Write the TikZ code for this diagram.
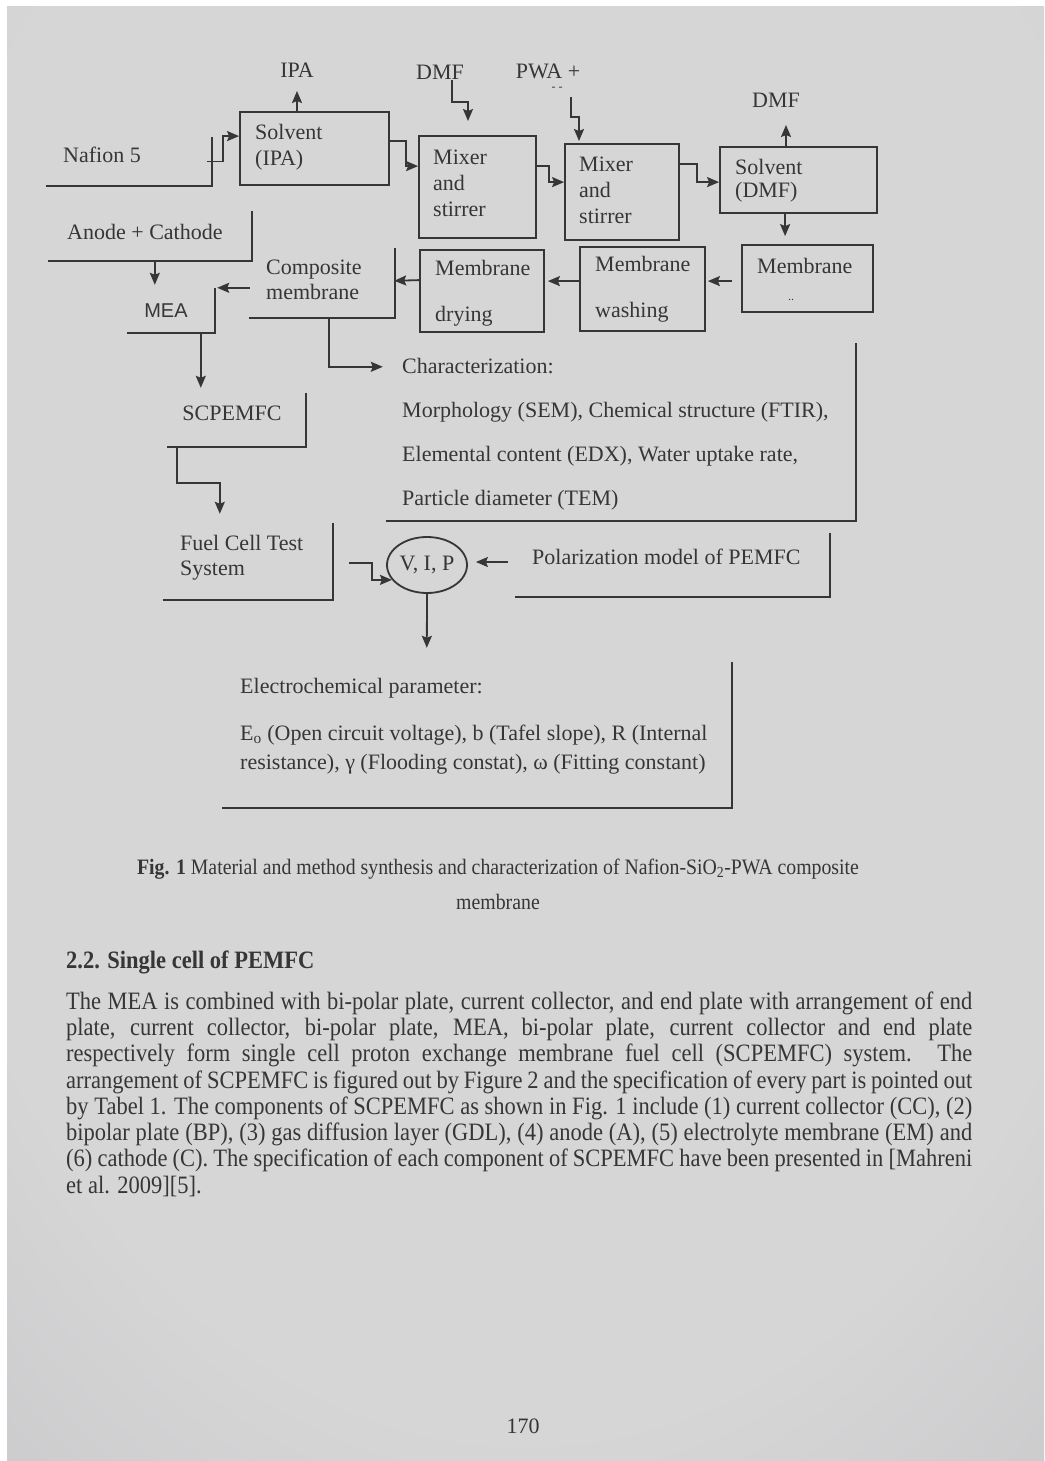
\documentclass[tikz,border=0pt]{standalone}
\usepackage{fontspec}
\setmainfont{Liberation Serif}
\newfontfamily\condfont[FakeStretch=0.9]{Liberation Serif}
\newfontfamily\meafont{Liberation Sans}
\usetikzlibrary{arrows.meta,fit,calc,shapes.geometric}
\definecolor{ink}{HTML}{363636}
\definecolor{pagein}{HTML}{D6D6D7}
\definecolor{pageout}{HTML}{A5A4A8}
\pgfdeclareradialshading{vig}{\pgfpoint{0bp}{10bp}}{color(0bp)=(pagein); color(30bp)=(pagein); color(75bp)=(pageout)}
\tikzset{
  ln/.style={draw=ink, line width=1.8pt},
  arr/.style={ln, -{Stealth[length=12pt,width=10pt,inset=2pt]}},
  fbox/.style={draw=ink, line width=1.8pt, inner sep=0pt},
  obox/.style={inner sep=0pt},
  dtxt/.style={text=ink, font=\fontsize{22}{26}\selectfont, inner sep=0pt, align=left},
  bodyline/.style={anchor=base west, inner sep=0pt, text=ink, font=\condfont\fontsize{25}{26}\selectfont},
}
\newcommand\obline[1]{\draw[ln] (#1.south west) -- (#1.south east) -- (#1.north east);}
\begin{document}
\begin{tikzpicture}[x=1pt,y=-1pt]
\useasboundingbox (0,0) rectangle (1044,1461);
\fill[white] (0,0) rectangle (1044,1461);
\shade[shading=vig] (7,7) rectangle (1044,1461);

% ---------- full boxes ----------
\node[fbox, fit={(240,112)(389,185)}] (solvIPA) {};
\node[fbox, fit={(419,136)(536,238)}] (mix1) {};
\node[fbox, fit={(565,144)(679,240)}] (mix2) {};
\node[fbox, fit={(720,147)(877,213)}] (solvDMF) {};
\node[fbox, fit={(420,250)(544,332)}] (mdry) {};
\node[fbox, fit={(580,247)(705,331)}] (mwash) {};
\node[fbox, fit={(742,245)(873,312)}] (mfil) {};

% ---------- open boxes (bottom + right edge) ----------
\node[obox, fit={(46,137)(212,186)}] (naf) {};
\node[obox, fit={(48,211)(252,261)}] (anode) {};
\node[obox, fit={(127,288)(215,333)}] (mea) {};
\node[obox, fit={(249,248)(395,318)}] (comp) {};
\node[obox, fit={(167,393)(306,447)}] (scp) {};
\node[obox, fit={(163,523)(333,600)}] (fcts) {};
\node[obox, fit={(386,343)(856,521)}] (charb) {};
\node[obox, fit={(515,533)(830,597)}] (polb) {};
\node[obox, fit={(222,662)(732,808)}] (elec) {};
\obline{naf}\obline{anode}\obline{mea}\obline{comp}\obline{scp}
\obline{fcts}\obline{charb}\obline{polb}\obline{elec}

% ---------- ellipse ----------
\node[ellipse, draw=ink, line width=1.8pt, minimum width=80pt, minimum height=56pt, inner sep=0pt,
      text=ink, font=\fontsize{22}{26}\selectfont] (vip) at (427,565) {V, I, P};

% ---------- texts ----------
\node[dtxt] (ipa) at (297,70) {IPA};
\node[dtxt, anchor=west] (naftxt) at (63,155) {Nafion 5};
\node[dtxt, anchor=west] (solvIPAtxt) at (255,147) {Solvent\\(IPA)};
\node[dtxt] (dmf1) at (440,72) {DMF};
\node[dtxt] (pwa) at (548,71) {PWA +};
\node[text=ink, inner sep=0pt, font=\fontsize{12}{12}\selectfont] (pwadash) at (557,89) {- -};
\node[dtxt, anchor=west] (mix1txt) at (433,183) {Mixer\\and\\stirrer};
\node[dtxt, anchor=west] (mix2txt) at (579,190) {Mixer\\and\\stirrer};
\node[dtxt, anchor=west, font=\fontsize{22}{23}\selectfont] (solvDMFtxt) at (735,181) {Solvent\\(DMF)};
\node[dtxt] (dmf2) at (776,100) {DMF};
\node[dtxt, anchor=west] (anodetxt) at (67,232) {Anode + Cathode};
\node[text=ink, inner sep=0pt, font=\meafont\fontsize{20}{24}\selectfont] (meatxt) at (166,311) {MEA};
\node[dtxt, anchor=west, font=\fontsize{22}{25}\selectfont] (comptxt) at (266,280) {Composite\\membrane};
\node[dtxt, anchor=west] (mdrytxt) at (435,293) {Membrane\\[20pt]drying};
\node[dtxt, anchor=west] (mwashtxt) at (595,289) {Membrane\\[20pt]washing};
\node[dtxt, anchor=west] (mfiltxt) at (757,266) {Membrane};
\node[text=ink, inner sep=0pt, font=\fontsize{12}{12}\selectfont] (mfildots) at (791,300) {..};
\node[dtxt, anchor=west, font=\fontsize{22}{44}\selectfont] (chartxt) at (402,434)
  {Characterization:\\Morphology (SEM), Chemical structure (FTIR),\\Elemental content (EDX), Water uptake rate,\\Particle diameter (TEM)};
\node[dtxt] (scptxt) at (232,413) {SCPEMFC};
\node[dtxt, anchor=west, font=\fontsize{22}{25}\selectfont] (fctstxt) at (180,558) {Fuel Cell Test\\System};
\node[dtxt, anchor=west] (poltxt) at (532,557) {Polarization model of PEMFC};
\node[dtxt, anchor=west] (electxt1) at (240,688) {Electrochemical parameter:};
\node[dtxt, anchor=west, font=\fontsize{22}{29}\selectfont] (electxt2) at (240,750)
  {E\textsubscript{o} (Open circuit voltage), b (Tafel slope), R (Internal\\resistance), γ (Flooding constat), ω (Fitting constant)};

% ---------- free ends ----------
\coordinate (ipaout) at (297,91);
\coordinate (dmfin) at (452,80);
\coordinate (dmfdown) at (468,121);
\coordinate (pwain) at (571,97);
\coordinate (pwadown) at (579,141);
\coordinate (dmfout) at (786,125);
\coordinate (polin) at (508,562);

% ---------- connectors ----------
\draw[arr] (solvIPA.north -| ipaout) -- (ipaout);
\draw[arr] ([xshift=-5pt]naf.east) -- ++(16,0) |- ($(solvIPA.north west)+(0,25)$);
\draw[arr] (dmfin) |- ($(dmfdown)+(0,-19)$) -- (dmfdown);
\draw[arr] (pwain) |- ($(pwadown)+(0,-24)$) -- (pwadown);
\draw[arr] ($(solvIPA.north east)+(0,30)$) -- ++(16,0) |- ($(mix1.north west)+(0,31)$);
\draw[arr] ($(mix1.north east)+(0,31)$) -- ++(12,0) |- ($(mix2.north west)+(0,39)$);
\draw[arr] ($(mix2.north east)+(0,21)$) -- ++(17,0) |- ($(solvDMF.north west)+(0,36)$);
\draw[arr] (solvDMF.north -| dmfout) -- (dmfout);
\draw[arr, shorten >=8pt] ($(solvDMF.south west)+(66,0)$) -- ($(mfil.north west)+(44,0)$);
\draw[arr, shorten <=9pt, shorten >=2pt] ($(mfil.north west)+(0,37)$) -- ($(mwash.north east)+(0,35)$);
\draw[arr, shorten >=3pt] ($(mwash.north west)+(0,35)$) -- ($(mdry.north east)+(0,32)$);
\draw[arr] ($(mdry.north west)+(0,31)$) -- ($(comp.north east)+(-1,33)$);
\draw[arr, shorten >=2pt] ($(comp.north west)+(1,40)$) -- (mea.north east);
\draw[arr] ($(anode.south west)+(107,0)$) -- ($(mea.north west)+(28,-3)$);
\draw[arr] ($(comp.south west)+(80,0)$) |- ($(charb.north west)+(-3,24)$);
\draw[arr] ($(mea.south west)+(74,0)$) -- ($(scp.north west)+(34,-5)$);
\draw[arr] ($(scp.south west)+(10,0)$) -- ++(0,36) -| ($(fcts.north west)+(57,-9)$);
\draw[arr] ($(fcts.north east)+(16,40)$) -- ++(23,0) |- (vip.203);
\draw[arr, shorten >=8pt] (polin) -- (vip.east |- polin);
\draw[arr] (vip.south) -- ($(elec.north west)+(205,-14)$);

% ---------- caption and page text ----------
\node[anchor=base, inner sep=0pt, text=ink, font=\condfont\fontsize{22}{24}\selectfont] (cap1) at (498,874)
  {\makebox[722pt][s]{\textbf{Fig. 1} Material and method synthesis and characterization of Nafion-SiO\textsubscript{2}-PWA composite}};
\node[anchor=base, inner sep=0pt, text=ink, font=\condfont\fontsize{22}{24}\selectfont] (cap2) at (498,909) {membrane};
\node[bodyline, font=\condfont\bfseries\fontsize{25}{26}\selectfont] (sec) at (66,968) {2.2. Single cell of PEMFC};
\node[bodyline] (p1) at (66,1009) {\makebox[906pt][s]{The MEA is combined with bi-polar plate, current collector, and end plate with arrangement of end}};
\node[bodyline] (p2) at (66,1035) {\makebox[906pt][s]{plate, current collector, bi-polar plate, MEA, bi-polar plate, current collector and end plate}};
\node[bodyline] (p3) at (66,1061) {\makebox[906pt][s]{respectively form single cell proton exchange membrane fuel cell (SCPEMFC) system. The}};
\node[bodyline] (p4) at (66,1088) {\makebox[906pt][s]{arrangement of SCPEMFC is figured out by Figure 2 and the specification of every part is pointed out}};
\node[bodyline] (p5) at (66,1114) {\makebox[906pt][s]{by Tabel 1. The components of SCPEMFC as shown in Fig. 1 include (1) current collector (CC), (2)}};
\node[bodyline] (p6) at (66,1140) {\makebox[906pt][s]{bipolar plate (BP), (3) gas diffusion layer (GDL), (4) anode (A), (5) electrolyte membrane (EM) and}};
\node[bodyline] (p7) at (66,1166) {\makebox[906pt][s]{(6) cathode (C). The specification of each component of SCPEMFC have been presented in [Mahreni}};
\node[bodyline] (p8) at (66,1193) {et al. 2009][5].};
\node[dtxt] (pg) at (523,1426) {170};
\end{tikzpicture}
\end{document}
